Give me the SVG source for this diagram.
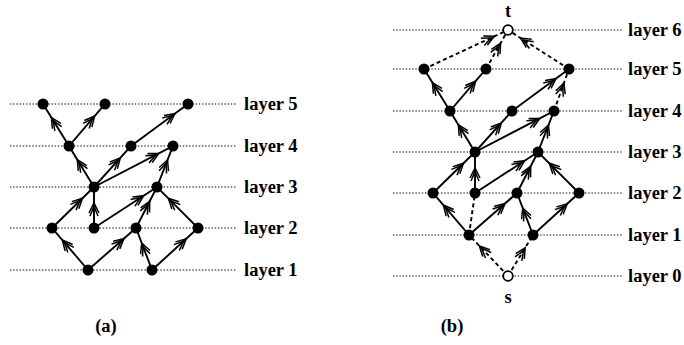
<svg xmlns="http://www.w3.org/2000/svg" width="684" height="345" viewBox="0 0 684 345">
<style>
.lay{stroke:#000;stroke-width:1.2;stroke-dasharray:1.4 1.8;fill:none}
.e{stroke:#000;stroke-width:1.9;fill:none;marker-mid:url(#ah)}
.d{stroke:#000;stroke-width:1.9;fill:none;stroke-dasharray:4 3}
.dm{marker-mid:url(#ah)}
.n{fill:#000}
.o{fill:#fff;stroke:#000;stroke-width:1.8}
.t{font-family:"Liberation Serif","DejaVu Serif",serif;font-size:18.5px;font-weight:bold;fill:#000}
</style>
<defs>
<marker id="ah" markerUnits="userSpaceOnUse" markerWidth="20" markerHeight="16" viewBox="-15 -8 20 16" refX="0" refY="0" orient="auto">
<path d="M-10,-5 L0,0 L-10,5 M-13,-4 L-3.5,0 L-13,4" fill="none" stroke="#000" stroke-width="1.5"/>
</marker>
</defs>

<!-- (a) -->
<g id="layers-a">
<line class="lay" x1="10" y1="104" x2="237" y2="104"/>
<line class="lay" x1="10" y1="146" x2="237" y2="146"/>
<line class="lay" x1="10" y1="187" x2="237" y2="187"/>
<line class="lay" x1="10" y1="228" x2="237" y2="228"/>
<line class="lay" x1="10" y1="270" x2="237" y2="270"/>
<text class="t" x="244" y="110">layer 5</text>
<text class="t" x="244" y="152">layer 4</text>
<text class="t" x="244" y="193">layer 3</text>
<text class="t" x="244" y="234">layer 2</text>
<text class="t" x="244" y="276">layer 1</text>
</g>
<g id="connectors-a">
<path class="e" d="M69,146 L51.4,117.6 L43,104"/>
<path class="e" d="M69,146 L94.6,116.1 L105,104"/>
<path class="e" d="M131,146 L175.1,113.5 L188,104"/>
<path class="e" d="M94,187 L77.3,159.7 L69,146"/>
<path class="e" d="M94,187 L120.3,157.9 L131,146"/>
<path class="e" d="M94,187 L158.8,153.4 L173,146"/>
<path class="e" d="M157,187 L167.5,160.0 L173,146"/>
<path class="e" d="M52,228 L82.5,198.2 L94,187"/>
<path class="e" d="M94,228 L94,203 L94,187"/>
<path class="e" d="M94,228 L143.6,195.7 L157,187"/>
<path class="e" d="M136,228 L149.7,201.2 L157,187"/>
<path class="e" d="M198,228 L168.3,198.3 L157,187"/>
<path class="e" d="M88,270 L62.4,240.1 L52,228"/>
<path class="e" d="M88,270 L124.0,238.5 L136,228"/>
<path class="e" d="M152,270 L141.7,243.0 L136,228"/>
<path class="e" d="M152,270 L186.2,238.8 L198,228"/>
</g>
<g id="a5a"><circle class="n" cx="43" cy="104" r="5.5"/></g>
<g id="a5b"><circle class="n" cx="105" cy="104" r="5.5"/></g>
<g id="a5c"><circle class="n" cx="188" cy="104" r="5.5"/></g>
<g id="a4a"><circle class="n" cx="69" cy="146" r="5.5"/></g>
<g id="a4b"><circle class="n" cx="131" cy="146" r="5.5"/></g>
<g id="a4c"><circle class="n" cx="173" cy="146" r="5.5"/></g>
<g id="a3a"><circle class="n" cx="94" cy="187" r="5.5"/></g>
<g id="a3b"><circle class="n" cx="157" cy="187" r="5.5"/></g>
<g id="a2a"><circle class="n" cx="52" cy="228" r="5.5"/></g>
<g id="a2b"><circle class="n" cx="94" cy="228" r="5.5"/></g>
<g id="a2c"><circle class="n" cx="136" cy="228" r="5.5"/></g>
<g id="a2d"><circle class="n" cx="198" cy="228" r="5.5"/></g>
<g id="a1a"><circle class="n" cx="88" cy="270" r="5.5"/></g>
<g id="a1b"><circle class="n" cx="152" cy="270" r="5.5"/></g>
<text class="t" x="106" y="332" text-anchor="middle">(a)</text>

<!-- (b) -->
<g id="layers-b">
<line class="lay" x1="393" y1="30" x2="622" y2="30"/>
<line class="lay" x1="393" y1="69" x2="622" y2="69"/>
<line class="lay" x1="393" y1="111" x2="622" y2="111"/>
<line class="lay" x1="393" y1="152" x2="622" y2="152"/>
<line class="lay" x1="393" y1="193" x2="622" y2="193"/>
<line class="lay" x1="393" y1="235" x2="622" y2="235"/>
<line class="lay" x1="393" y1="276" x2="622" y2="276"/>
<text class="t" x="628" y="36">layer 6</text>
<text class="t" x="628" y="75">layer 5</text>
<text class="t" x="628" y="117">layer 4</text>
<text class="t" x="628" y="158">layer 3</text>
<text class="t" x="628" y="199">layer 2</text>
<text class="t" x="628" y="241">layer 1</text>
<text class="t" x="628" y="282">layer 0</text>
</g>
<g id="connectors-b">
<g transform="translate(381,-35)">
<path class="e" d="M69,146 L51.4,117.6 L43,104"/>
<path class="e" d="M69,146 L94.6,116.1 L105,104"/>
<path class="e" d="M131,146 L175.1,113.5 L188,104"/>
<path class="e" d="M94,187 L77.3,159.7 L69,146"/>
<path class="e" d="M94,187 L120.3,157.9 L131,146"/>
<path class="e" d="M94,187 L158.8,153.4 L173,146"/>
<path class="e" d="M157,187 L167.5,160.0 L173,146"/>
<path class="e" d="M52,228 L82.5,198.2 L94,187"/>
<path class="e" d="M94,228 L94,203 L94,187"/>
<path class="e" d="M94,228 L143.6,195.7 L157,187"/>
<path class="e" d="M136,228 L149.7,201.2 L157,187"/>
<path class="e" d="M198,228 L168.3,198.3 L157,187"/>
<path class="e" d="M88,270 L62.4,240.1 L52,228"/>
<path class="e" d="M88,270 L124.0,238.5 L136,228"/>
<path class="e" d="M152,270 L141.7,243.0 L136,228"/>
<path class="e" d="M152,270 L186.2,238.8 L198,228"/>
</g>
<path class="d dm" d="M554,111 L563.9,83.1 L569,69"/>
<path class="d" d="M469,235 L475,193"/>
<path class="d dm" d="M508,276 L479.4,245.9 L469,235"/>
<path class="d dm" d="M508,276 L525.2,247.8 L533,235"/>
<path class="d dm" d="M424,69 L494.4,36.3 L508,30"/>
<path class="d dm" d="M486,69 L500.6,43.1 L508,30"/>
<path class="d dm" d="M569,69 L520.6,38.1 L508,30"/>
</g>
<g id="t"><circle class="o" cx="508" cy="30" r="4.8"/><text class="t" x="508" y="17" text-anchor="middle">t</text></g>
<g id="b5a"><circle class="n" cx="424" cy="69" r="5.5"/></g>
<g id="b5b"><circle class="n" cx="486" cy="69" r="5.5"/></g>
<g id="b5c"><circle class="n" cx="569" cy="69" r="5.5"/></g>
<g id="b4a"><circle class="n" cx="450" cy="111" r="5.5"/></g>
<g id="b4b"><circle class="n" cx="512" cy="111" r="5.5"/></g>
<g id="b4c"><circle class="n" cx="554" cy="111" r="5.5"/></g>
<g id="b3a"><circle class="n" cx="475" cy="152" r="5.5"/></g>
<g id="b3b"><circle class="n" cx="538" cy="152" r="5.5"/></g>
<g id="b2a"><circle class="n" cx="433" cy="193" r="5.5"/></g>
<g id="b2b"><circle class="n" cx="475" cy="193" r="5.5"/></g>
<g id="b2c"><circle class="n" cx="517" cy="193" r="5.5"/></g>
<g id="b2d"><circle class="n" cx="579" cy="193" r="5.5"/></g>
<g id="b1a"><circle class="n" cx="469" cy="235" r="5.5"/></g>
<g id="b1b"><circle class="n" cx="533" cy="235" r="5.5"/></g>
<g id="s"><circle class="o" cx="508" cy="276" r="4.8"/><text class="t" x="508" y="303" text-anchor="middle">s</text></g>
<text class="t" x="452" y="332" text-anchor="middle">(b)</text>
</svg>
